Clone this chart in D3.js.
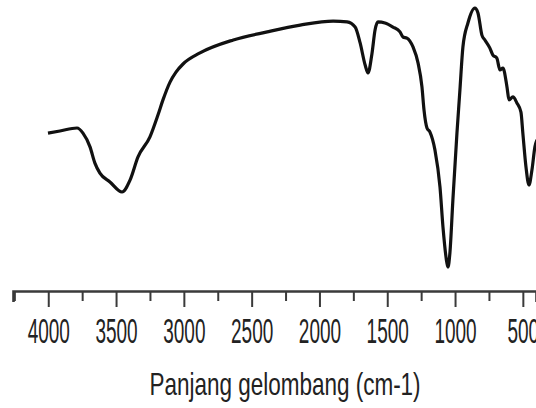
<!DOCTYPE html>
<html>
<head>
<meta charset="utf-8">
<script src="https://cdn.jsdelivr.net/npm/d3@7"></script>
<style>
  body { margin: 0; background: #fff; }
  svg { display: block; }
</style>
</head>
<body>
<div id="chart"></div>
<script>
// FTIR spectrum
const wavenumber = [4002, 3914, 3788, 3744, 3692, 3656, 3619, 3545, 3456, 3397, 3338, 3250, 3191, 3154,
  3102, 3058, 3006, 2881, 2635, 2385, 2142, 1899, 1796, 1737, 1700, 1663, 1642, 1612, 1590, 1568, 1517,
  1458, 1406, 1384, 1355, 1310, 1273, 1244, 1229, 1207, 1185, 1148, 1111, 1089, 1060, 1052, 1038,
  1016, 986, 964, 942, 905, 854, 831, 802, 780, 743, 721, 692, 669, 647, 617, 602, 573, 544, 514,
  500, 477, 455, 433, 411, 396];
const transmittance = [54.4, 55.2, 56.3, 54.4, 49.3, 43.3, 39.6, 36.3, 32.6, 37.0, 45.6, 53.0, 61.1, 66.7,
  73.3, 77.0, 80.0, 84.1, 88.9, 91.9, 94.4, 95.9, 95.6, 93.7, 87.8, 79.6, 76.7, 84.1, 92.6, 95.6, 95.2,
  93.7, 91.9, 90.0, 89.6, 86.3, 80.4, 71.5, 63.0, 56.3, 54.8, 48.1, 34.4, 19.6, 6.3, 4.8, 10.0,
  29.6, 54.4, 70.4, 86.3, 95.2, 100.7, 98.9, 90.7, 88.9, 85.9, 83.3, 82.2, 77.8, 78.5, 71.5, 66.7, 67.8, 65.6, 62.2,
  54.4, 41.9, 35.2, 40.7, 49.3, 51.9];
const majorTicks = [4000, 3500, 3000, 2500, 2000, 1500, 1000, 500];
const minorTicks = [4250, 3750, 3250, 2750, 2250, 1750, 1250, 750];
const xTitle = "Panjang gelombang (cm-1)";

const width = 536;
const height = 408;
const axisY = 291;
const stretch = 1.8; // the labels in the picture are tall and narrow

const data = wavenumber.map((w, i) => ({ w: w, t: transmittance[i] }));

const x = d3.scaleLinear().domain([4260, 403]).range([13, 536]);
const y = d3.scaleLinear().domain([0, 100]).range([280, 10]);

const svg = d3.select("#chart")
  .append("svg").attr("width", width).attr("height", height)
  .style("background", "#fff");

// minor ticks + axis line
const minorAxis = svg.append("g")
  .attr("transform", `translate(0,${axisY})`)
  .call(d3.axisBottom(x).tickValues(minorTicks).tickSize(10).tickSizeOuter(11).tickFormat(""));
minorAxis.select(".domain").attr("stroke", "#3a3a3a").attr("stroke-width", 2.6);
minorAxis.selectAll(".tick line").attr("stroke", "#3a3a3a").attr("stroke-width", 2);

// major ticks with labels
const majorAxis = svg.append("g")
  .attr("transform", `translate(0,${axisY})`)
  .call(d3.axisBottom(x).tickValues(majorTicks).tickSize(16).tickSizeOuter(0).tickFormat(d3.format("d")));
majorAxis.select(".domain").remove();
majorAxis.selectAll(".tick line").attr("stroke", "#3a3a3a").attr("stroke-width", 2);
majorAxis.selectAll(".tick text")
  .attr("transform", `scale(1,${stretch})`)
  .attr("y", 52 / stretch)
  .attr("dy", 0)
  .attr("fill", "#222")
  .style("font-family", "Liberation Sans, Arial, sans-serif")
  .style("font-size", "19px");

// spectrum
const line = d3.line()
  .x(d => x(d.w))
  .y(d => y(d.t))
  .curve(d3.curveMonotoneX);

svg.append("path")
  .datum(data)
  .attr("fill", "none")
  .attr("stroke", "#111")
  .attr("stroke-width", 3.2)
  .attr("stroke-linejoin", "round")
  .attr("d", line);

// axis title
svg.append("text")
  .attr("transform", "translate(285,395) scale(1,1.37)")
  .attr("text-anchor", "middle")
  .attr("fill", "#222")
  .style("font-family", "Liberation Sans, Arial, sans-serif")
  .style("font-size", "22.5px")
  .text(xTitle);
</script>
</body>
</html>
